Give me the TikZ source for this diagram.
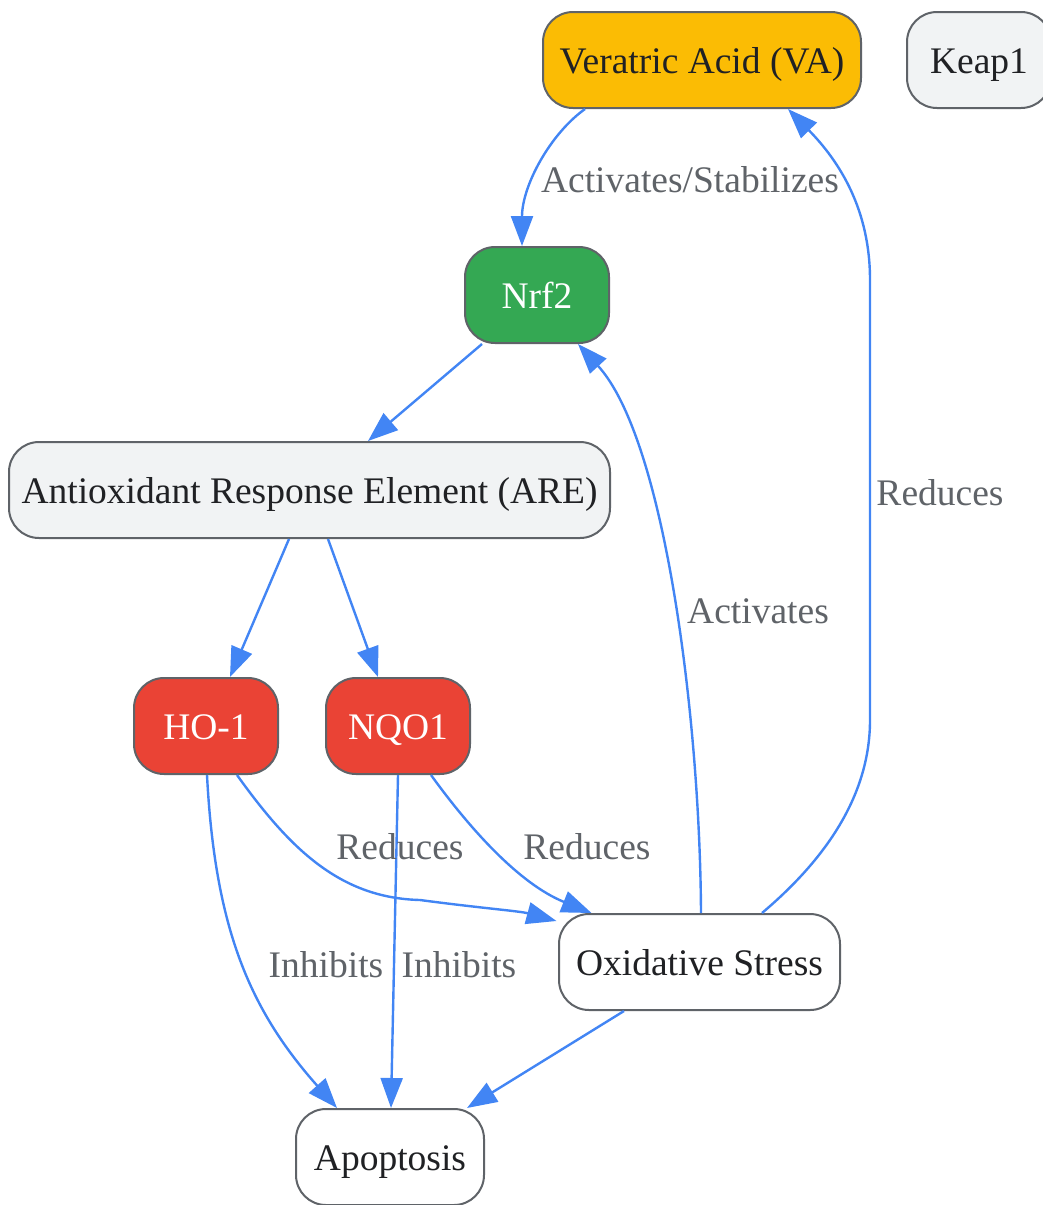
\documentclass[tikz,border=0pt]{standalone}
\usepackage{fontspec}
\setmainfont{Liberation Serif}
\usetikzlibrary{arrows.meta}
\definecolor{edgeblue}{HTML}{4285F4}
\definecolor{bordergray}{HTML}{5F6368}
\definecolor{labelgray}{HTML}{5F6368}
\definecolor{textdark}{HTML}{202124}
\definecolor{vayellow}{HTML}{FBBC04}
\definecolor{nrfgreen}{HTML}{34A853}
\definecolor{enzred}{HTML}{EA4335}
\definecolor{lightfill}{HTML}{F1F3F4}
\tikzset{
  box/.style={draw=bordergray, line width=2pt, rounded corners=30pt,
    minimum height=96pt, inner sep=0pt, text=textdark,
    font=\fontsize{37.5}{44}\selectfont, text height=30pt, text depth=3pt},
  lbl/.style={text=labelgray, font=\fontsize{37.5}{44}\selectfont, inner sep=0pt,
    text height=30pt, text depth=3pt},
  conn/.style={draw=edgeblue, line width=2.4pt,
    -{Triangle[length=30pt,width=22pt]}},
}
\begin{document}
\begin{tikzpicture}[x=1pt,y=-1pt]
\useasboundingbox (0,0) rectangle (1043,1205);
% nodes
\node[box, fill=vayellow, minimum width=318pt] (va) at (702,60) {Veratric Acid (VA)};
\node[box, fill=lightfill, minimum width=144pt] (keap) at (979,60) {Keap1};
\node[box, fill=nrfgreen, minimum width=144pt, text=white] (nrf) at (537,295) {Nrf2};
\node[box, fill=lightfill, minimum width=601pt] (are) at (309.5,490) {Antioxidant Response Element (ARE)};
\node[box, fill=enzred, minimum width=144pt, text=white] (ho) at (206,726) {HO-1};
\node[box, fill=enzred, minimum width=144pt, text=white] (nqo) at (398,726) {NQO1};
\node[box, fill=white, minimum width=281pt] (ox) at (699.5,962) {Oxidative Stress};
\node[box, fill=white, minimum width=188pt] (apo) at (390,1157) {Apoptosis};
% connectors
\draw[conn] ([xshift=-117pt]va.south) .. controls +(-35,25) and +(0,-60) .. ([xshift=-15pt]nrf.north);
\draw[conn] ([xshift=-55pt]nrf.south) -- ([xshift=58.5pt]are.north);
\draw[conn] ([xshift=-20.5pt]are.south) -- ([xshift=24pt]ho.north);
\draw[conn] ([xshift=18.5pt]are.south) -- ([xshift=-20pt]nqo.north);
\draw[conn] ([xshift=31pt]ho.south) .. controls +(53,74) and +(-80,-2) .. (420,900) .. controls +(60,8) and +(-37,-10) .. ([xshift=-143pt,yshift=-8pt]ox.north);
\draw[conn] ([xshift=33pt]nqo.south) .. controls +(39,54) and +(-72,-29) .. ([xshift=-108pt]ox.north);
\draw[conn] ([xshift=1pt]ho.south) .. controls +(8,154) and +(-87,-98) .. ([xshift=-53pt]apo.north);
\draw[conn] (nqo.south) -- ([xshift=1pt]apo.north);
\draw[conn] ([xshift=-75.5pt]ox.south) -- ([xshift=77pt]apo.north);
\draw[conn] ([xshift=1.5pt]ox.north) .. controls +(-1,-194) and +(87,95) .. ([xshift=41pt]nrf.south);
\draw[conn] ([xshift=62.5pt]ox.north) .. controls +(58,-49) and +(0,80) .. (870,720) -- (870,280) .. controls +(0,-70) and +(52,53) .. ([xshift=86pt]va.south);
% labels
\node[lbl] (l1) at (690,179) {Activates/Stabilizes};
\node[lbl] (l2) at (758,610) {Activates};
\node[lbl] (l3) at (940,492) {Reduces};
\node[lbl] (l4) at (400,846) {Reduces};
\node[lbl] (l5) at (587,846) {Reduces};
\node[lbl] (l6) at (326,964) {Inhibits};
\node[lbl] (l7) at (459,964) {Inhibits};
\end{tikzpicture}
\end{document}
